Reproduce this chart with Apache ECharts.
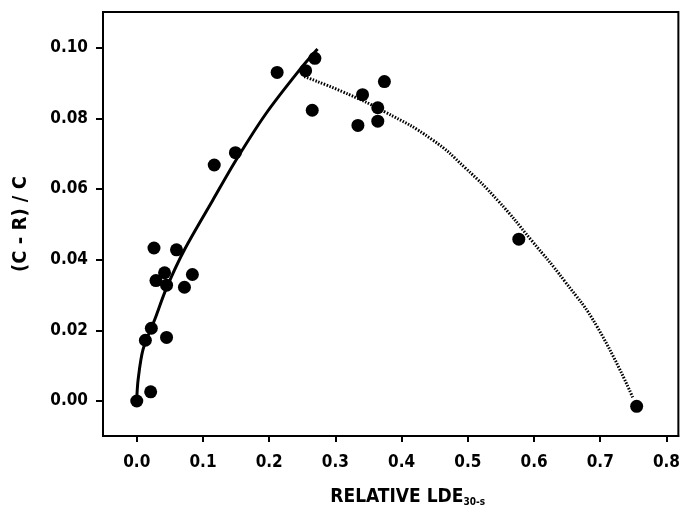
<!DOCTYPE html>
<html>
<head>
<meta charset="utf-8">
<script src="https://cdn.jsdelivr.net/npm/echarts@6/dist/echarts.min.js"></script>
<style>
  html, body { margin: 0; padding: 0; background: #fff; }
  #chart { width: 683px; height: 512px; }
</style>
</head>
<body>
<div id="chart"></div>
<script>
// measured points: [relative LDE, (C-R)/C]
const points = [
  [0.000, 0.0000], [0.021, 0.0026], [0.013, 0.0172], [0.022, 0.0206],
  [0.045, 0.0180], [0.026, 0.0433], [0.060, 0.0428], [0.042, 0.0363],
  [0.029, 0.0341], [0.045, 0.0328], [0.084, 0.0358], [0.072, 0.0322],
  [0.117, 0.0668], [0.149, 0.0703], [0.212, 0.0930], [0.255, 0.0935],
  [0.269, 0.0970], [0.265, 0.0823], [0.341, 0.0867], [0.374, 0.0904],
  [0.364, 0.0830], [0.364, 0.0792], [0.334, 0.0780], [0.577, 0.0458],
  [0.755, -0.0015]
];

// solid fit line
const risingFit = [
  [0.000, 0.0006], [0.002, 0.0060], [0.0095, 0.0146], [0.027, 0.0230],
  [0.045, 0.0320], [0.072, 0.0428], [0.115, 0.0569], [0.150, 0.0682],
  [0.195, 0.0813], [0.245, 0.0935], [0.273, 0.0996]
];

// dotted fit line
const fallingFit = [
  [0.253, 0.0918], [0.310, 0.0876], [0.375, 0.0818], [0.446, 0.0740],
  [0.496, 0.0660], [0.546, 0.0566], [0.596, 0.0455], [0.646, 0.0340],
  [0.696, 0.0208], [0.750, 0.0006]
];

const xTicks = [0, 0.1, 0.2, 0.3, 0.4, 0.5, 0.6, 0.7, 0.8];
const yTicks = [0, 0.02, 0.04, 0.06, 0.08, 0.10];

const font = '"DejaVu Sans Condensed", "DejaVu Sans", sans-serif';

const chart = echarts.init(document.getElementById('chart'));
chart.setOption({
  animation: false,
  grid: { left: 103, right: 2, top: 12, bottom: 74, show: true, borderColor: '#000', borderWidth: 2 },
  xAxis: {
    type: 'value',
    min: -0.051,
    max: 0.818,
    name: 'RELATIVE LDE{sub|30-s}',
    nameLocation: 'middle',
    nameGap: 52,
    nameTextStyle: {
      color: '#000', fontFamily: font, fontWeight: 'bold', fontSize: 19,
      padding: [0, 0, 0, 34],
      rich: { sub: { fontFamily: font, fontWeight: 'bold', fontSize: 10, verticalAlign: 'bottom', padding: [7, 0, 0, 0] } }
    },
    splitLine: { show: false },
    axisLine: { show: true, onZero: false, lineStyle: { color: '#000', width: 2 } },
    axisTick: { show: true, customValues: xTicks, length: 6, lineStyle: { color: '#000', width: 2 } },
    axisLabel: {
      customValues: xTicks, margin: 18,
      color: '#000', fontFamily: font, fontWeight: 'bold', fontSize: 17,
      formatter: v => v.toFixed(1)
    }
  },
  yAxis: {
    type: 'value',
    min: -0.0099,
    max: 0.1101,
    name: '(C - R) / C',
    nameLocation: 'middle',
    nameGap: 72,
    nameTextStyle: { color: '#000', fontFamily: font, fontWeight: 'bold', fontSize: 20 },
    splitLine: { show: false },
    axisLine: { show: true, onZero: false, lineStyle: { color: '#000', width: 2 } },
    axisTick: { show: true, customValues: yTicks, length: 7, lineStyle: { color: '#000', width: 2 } },
    axisLabel: {
      customValues: yTicks, margin: 15,
      color: '#000', fontFamily: font, fontWeight: 'bold', fontSize: 17,
      formatter: v => v.toFixed(2)
    }
  },
  series: [
    {
      type: 'line',
      data: risingFit,
      showSymbol: false,
      smooth: 0.3,
      lineStyle: { color: '#000', width: 3 },
      z: 2
    },
    {
      type: 'line',
      data: fallingFit,
      showSymbol: false,
      smooth: 0.5,
      lineStyle: { color: '#000', width: 3, type: [1.5, 1.5] },
      z: 2
    },
    {
      type: 'scatter',
      data: points,
      symbolSize: 13,
      itemStyle: { color: '#000', opacity: 1 },
      z: 3
    }
  ]
});
</script>
</body>
</html>
